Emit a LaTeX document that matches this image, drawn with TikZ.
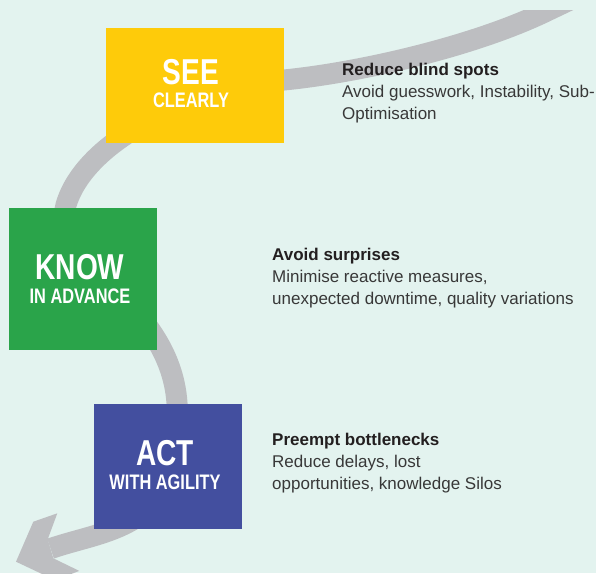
\documentclass[tikz,border=0pt]{standalone}
\usepackage{fontspec}
\setmainfont{Liberation Sans}
\newfontfamily\boxfont{Liberation Sans}[FakeStretch=0.78]
\usepackage{tikz}
\definecolor{bgmint}{HTML}{E3F3EF}
\definecolor{bandgray}{HTML}{BDBEC1}
\definecolor{seeyellow}{HTML}{FECB0A}
\definecolor{knowgreen}{HTML}{2AA44A}
\definecolor{actblue}{HTML}{434F9F}
\definecolor{inkgray}{HTML}{231F20}
\definecolor{blurbgray}{HTML}{383838}

\begin{document}
\begin{tikzpicture}[x=1pt, y=-1pt,
	stepbox/.style={inner sep=0pt, outer sep=0pt, draw=none},
	bigword/.style={anchor=base, text=white, inner sep=0pt, font=\boxfont\bfseries\fontsize{36}{36}\selectfont},
	smallword/.style={anchor=base, text=white, inner sep=0pt, font=\boxfont\bfseries\fontsize{21}{21}\selectfont},
	blurb/.style={anchor=base west, align=left, inner sep=0pt, text=blurbgray, font=\fontsize{17}{22}\selectfont}]
% draw background
	\fill[bgmint] (0,0) rectangle (596,573);
	\useasboundingbox (0,0) rectangle (596,573);

% draw the gray band and its head
	\begin{scope}
	\clip (0,10) rectangle (596,573);
	\draw[bandgray, line width=21pt] (572,-1) -- (549,10) .. controls (478,45) and (364,72) .. (284,80)
		.. controls (190,90) and (85,140) .. (66,205)
		.. controls (50,262) and (170,300) .. (177,403)
		.. controls (185,530) and (110,528) .. (50.6,548.6);
	\fill[bandgray] (16,561.7) -- (33.3,521.7) -- (57.3,513.3) -- (47.7,539.3) -- (53.3,558.3) -- (79.3,570.9) -- (55,580.1) -- cycle;
	\end{scope}

% draw boxes
	\node[stepbox, fill=seeyellow, minimum width=178pt, minimum height=115pt] (see) at (195,85.5) {};
	\node[stepbox, fill=knowgreen, minimum width=148pt, minimum height=142pt] (know) at (83,279) {};
	\node[stepbox, fill=actblue, minimum width=148pt, minimum height=125pt] (act) at (168,466.5) {};

	\node[bigword] (seebig) at (191,84) {SEE};
	\node[smallword] (seesmall) at (191,107) {CLEARLY};
	\node[bigword] (knowbig) at (80,279) {KNOW};
	\node[smallword] (knowsmall) at (80,303) {IN ADVANCE};
	\node[bigword] (actbig) at (165,465) {ACT};
	\node[smallword] (actsmall) at (165,489) {WITH AGILITY};

% draw texts (base is the last line)
	\node[blurb] (seetext) at (342,119) {{\color{inkgray}\bfseries Reduce blind spots}\\Avoid guesswork, Instability, Sub-\\Optimisation};
	\node[blurb] (knowtext) at (272,304) {{\color{inkgray}\bfseries Avoid surprises}\\Minimise reactive measures,\\unexpected downtime, quality variations};
	\node[blurb] (acttext) at (272,489) {{\color{inkgray}\bfseries Preempt bottlenecks}\\Reduce delays, lost\\opportunities, knowledge Silos};
\end{tikzpicture}
\end{document}
